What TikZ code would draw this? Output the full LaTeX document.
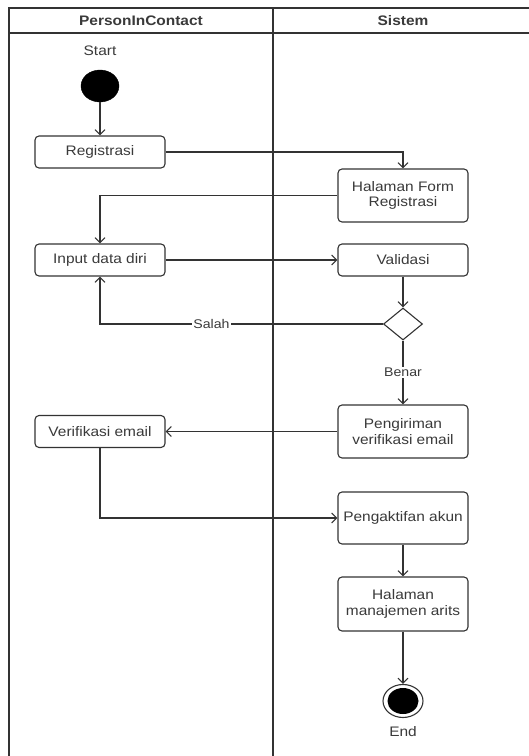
\documentclass[tikz,border=0pt]{standalone}
\usepackage{fontspec}
\setmainfont{Liberation Sans}[FakeStretch=1.12]
\usetikzlibrary{arrows.meta,shapes.geometric}
\definecolor{linec}{HTML}{333333}
\definecolor{textc}{HTML}{3A3A3A}
\begin{document}
\begin{tikzpicture}[x=1pt,y=-1pt,
  lane/.style={draw=linec,line width=1.4pt},
  act/.style={draw=linec,line width=1.1pt,rounded corners=4pt,fill=white,
    minimum width=130pt,align=center,text=textc,inner sep=2pt,
    font=\fontsize{13.8}{15.7}\selectfont},
  flow/.style={draw=linec,line width=1.1pt,-{Straight Barb[length=5pt,width=10pt,line width=1.1pt]}},
  lbl/.style={text=textc,font=\fontsize{12.6}{14}\selectfont,fill=white,inner sep=1pt},
  term/.style={text=textc,font=\fontsize{13.8}{15.7}\selectfont,inner sep=1pt},
  hdr/.style={text=textc,font=\fontsize{13.8}{15.7}\selectfont\bfseries}]
\clip (0,0) rectangle (529,756);
\fill[white] (0,0) rectangle (529,756);

% swimlanes
\draw[lane] (9,8) rectangle (535,770);
\draw[lane] (9,33) -- (535,33);
\draw[lane] (273,8) -- (273,770);
\node[hdr] (h1) at (141,20.5) {PersonInContact};
\node[hdr] (h2) at (403,20.5) {Sistem};

% initial and final nodes
\node[term] (lstart) at (100,51) {Start};
\node[ellipse,fill=black,draw=black,minimum width=38pt,minimum height=32pt,inner sep=0] (start) at (100,86) {};
\node[ellipse,fill=white,draw=linec,line width=1.1pt,minimum width=40pt,minimum height=33pt,inner sep=0] (end) at (403,701) {};
\node[ellipse,fill=black,minimum width=31pt,minimum height=26pt,inner sep=0] (endin) at (403,701) {};
\node[term] (lend) at (403,732) {End};

% actions
\node[act,minimum height=32pt] (reg) at (100,152) {Registrasi};
\node[act,minimum height=53pt] (hfr) at (403,195.5) {Halaman Form\\Registrasi};
\node[act,minimum height=32pt] (inp) at (100,260) {Input data diri};
\node[act,minimum height=32pt] (val) at (403,260) {Validasi};
\node[diamond,draw=linec,line width=1.1pt,fill=white,minimum width=39pt,minimum height=32pt,inner sep=0] (dec) at (403,324) {};
\node[act,minimum height=53pt] (pen) at (403,431.5) {Pengiriman\\verifikasi email};
\node[act,minimum height=32pt] (ver) at (100,431.5) {Verifikasi email};
\node[act,minimum height=52pt] (akt) at (403,518) {Pengaktifan akun};
\node[act,minimum height=54pt] (hm) at (403,604) {Halaman\\manajemen arits};

% control flow
\draw[flow] (start) -- (reg);
\draw[flow] (reg.east) -| (hfr.north);
\draw[flow] (hfr.west) -| (inp.north);
\draw[flow] (inp) -- (val);
\draw[flow] (val) -- (dec);
\draw[flow] (dec.west) -| (inp.south) node[lbl,pos=0.303] (lsalah) {Salah};
\draw[flow] (dec.south) -- (pen.north) node[lbl,midway] (lbenar) {Benar};
\draw[flow] (pen) -- (ver);
\draw[flow] (ver.south) |- (akt.west);
\draw[flow] (akt) -- (hm);
\draw[flow] (hm) -- (end);
\end{tikzpicture}
\end{document}
